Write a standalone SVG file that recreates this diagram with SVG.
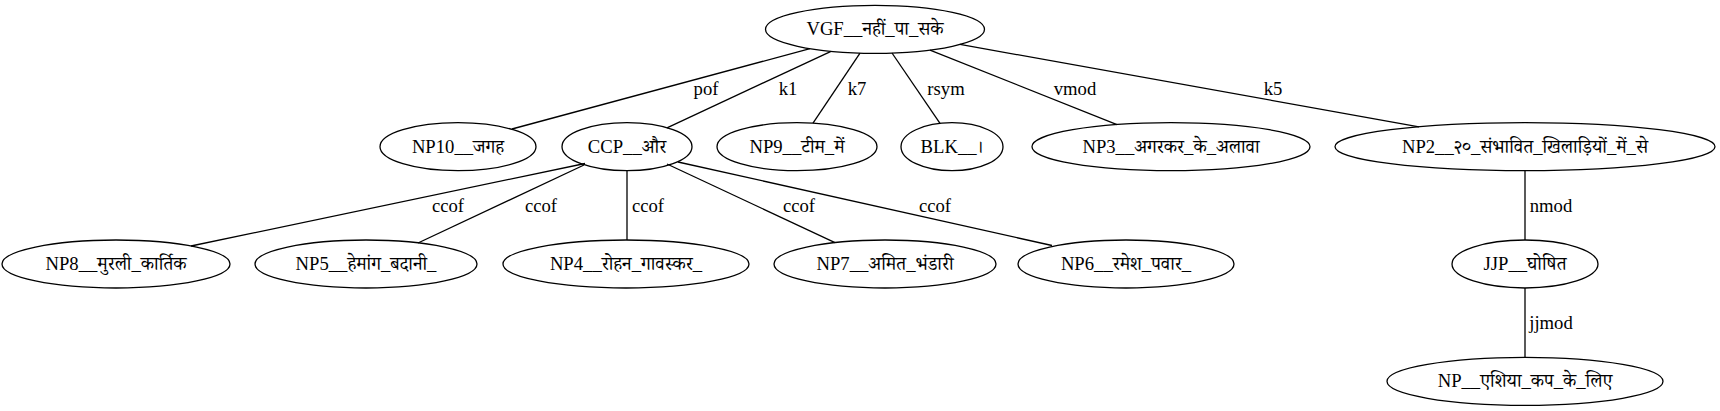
<svg xmlns="http://www.w3.org/2000/svg" width="1720" height="411" viewBox="0 0 1720 411">
<style>
.n ellipse{fill:none;stroke:#000;stroke-width:1.3}
text{font-family:'Liberation Serif','Times New Roman','DejaVu Serif','Noto Serif Devanagari','Noto Sans Devanagari',serif;font-size:18.67px;fill:#000;text-anchor:middle}
#edges path{fill:none;stroke:#000;stroke-width:1.3}
</style>
<rect x="0" y="0" width="1720" height="411" fill="#fff"/>
<g id="edges">
<path d="M810,48.6 L512,129"/>
<path d="M831,51.3 L667,127.8"/>
<path d="M860,53.1 L813,123.2"/>
<path d="M892,53 L940,123.4"/>
<path d="M930,50.1 L1117,124.6"/>
<path d="M960,44.4 L1419,126.8"/>
<path d="M585,163.5 L191,246"/>
<path d="M584,165 L418,243"/>
<path d="M627,170.7 L627,240"/>
<path d="M667,164 L835,242.6"/>
<path d="M678,162 L1052,245.5"/>
<path d="M1525,170.7 L1525,240"/>
<path d="M1525,288 L1525,357.3"/>
<text x="706" y="94.5">pof</text>
<text x="788" y="94.5">k1</text>
<text x="857" y="94.5">k7</text>
<text x="946" y="94.5">rsym</text>
<text x="1075" y="94.5">vmod</text>
<text x="1273" y="94.5">k5</text>
<text x="448" y="211.5">ccof</text>
<text x="541" y="211.5">ccof</text>
<text x="648" y="211.5">ccof</text>
<text x="799" y="211.5">ccof</text>
<text x="935" y="211.5">ccof</text>
<text x="1551" y="211.5">nmod</text>
<text x="1551" y="328.8">jjmod</text>
</g>
<g id="VGF" class="n"><ellipse cx="875" cy="29.3" rx="109.5" ry="24"/><text x="875" y="35.3">VGF__नहीं_पा_सके</text></g>
<g id="NP10" class="n"><ellipse cx="458" cy="146.7" rx="78" ry="24"/><text x="458" y="152.7">NP10__जगह</text></g>
<g id="CCP" class="n"><ellipse cx="627" cy="146.7" rx="65" ry="24"/><text x="627" y="152.7">CCP__और</text></g>
<g id="NP9" class="n"><ellipse cx="797" cy="146.7" rx="80" ry="24"/><text x="797" y="152.7">NP9__टीम_में</text></g>
<g id="BLK" class="n"><ellipse cx="952" cy="146.7" rx="51" ry="24"/><text x="952" y="152.7">BLK__।</text></g>
<g id="NP3" class="n"><ellipse cx="1171" cy="146.7" rx="139" ry="24"/><text x="1171" y="152.7">NP3__अगरकर_के_अलावा</text></g>
<g id="NP2" class="n"><ellipse cx="1525" cy="146.7" rx="190" ry="24"/><text x="1525" y="152.7">NP2__२०_संभावित_खिलाड़ियों_में_से</text></g>
<g id="NP8" class="n"><ellipse cx="116" cy="264" rx="114" ry="24"/><text x="116" y="270">NP8__मुरली_कार्तिक</text></g>
<g id="NP5" class="n"><ellipse cx="366" cy="264" rx="111" ry="24"/><text x="366" y="270">NP5__हेमांग_बदानी_</text></g>
<g id="NP4" class="n"><ellipse cx="626" cy="264" rx="123" ry="24"/><text x="626" y="270">NP4__रोहन_गावस्कर_</text></g>
<g id="NP7" class="n"><ellipse cx="885" cy="264" rx="111" ry="24"/><text x="885" y="270">NP7__अमित_भंडारी</text></g>
<g id="NP6" class="n"><ellipse cx="1126" cy="264" rx="108" ry="24"/><text x="1126" y="270">NP6__रमेश_पवार_</text></g>
<g id="JJP" class="n"><ellipse cx="1525" cy="264" rx="73" ry="24"/><text x="1525" y="270">JJP__घोषित</text></g>
<g id="NP" class="n"><ellipse cx="1525" cy="381.3" rx="138" ry="24"/><text x="1525" y="387.3">NP__एशिया_कप_के_लिए</text></g>
</svg>
